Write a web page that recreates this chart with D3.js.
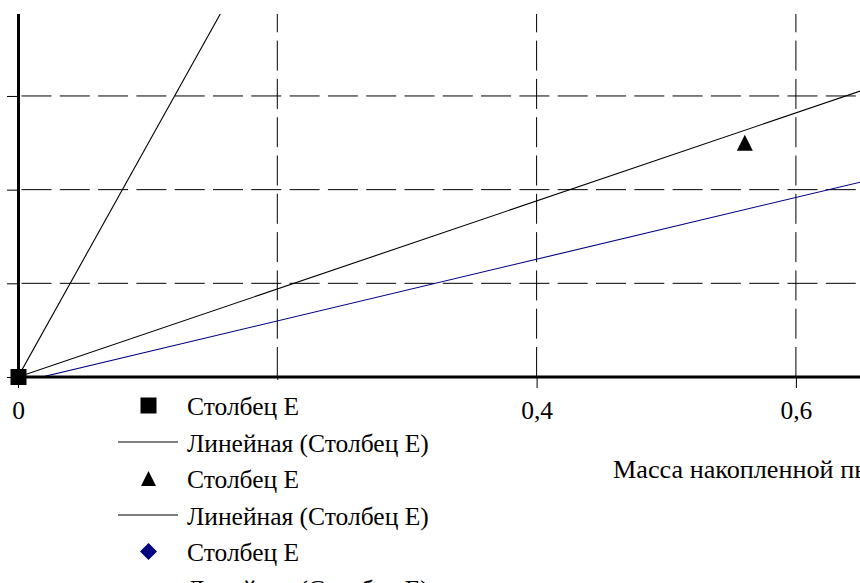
<!DOCTYPE html>
<html>
<head>
<meta charset="utf-8">
<script src="https://cdn.jsdelivr.net/npm/d3@7"></script>
<style>
  html, body { margin: 0; padding: 0; background: #fff; overflow: hidden; }
</style>
</head>
<body>
<svg id="chart" width="860" height="583"></svg>
<script>
// Observed points for each series
const squarePoints = [[0, 0]];
const trianglePoints = [[0.5606, 0.250]];
const diamondPoints = [];

// Linear trend lines (y = slope * x + intercept), one per series
const trendSlopes = [2.484, 0.4698, 0.3296];
const trendIntercepts = [0, 0, -0.0061];

// Axis ticks and labels (the 0,2 label sits beneath the legend)
const xTickValues = [0, 0.2, 0.4, 0.6];
const xTickLabels = ["0", "", "0,4", "0,6"];
const yGridValues = [0.1, 0.2, 0.3];
const xAxisTitle = "Масса накопленной пыли";

// Legend entries
const legendLabels = [
  "Столбец Е",
  "Линейная (Столбец Е)",
  "Столбец Е",
  "Линейная (Столбец Е)",
  "Столбец Е",
  "Линейная (Столбец Е)"
];
const legendKinds = ["square", "line", "triangle", "line", "diamond", "line"];

// Styling
const serif = "'Liberation Serif', 'Times New Roman', Tinos, serif";
const fontSize = 25.5;
const titleSize = 26.2;
const trendColors = ["#000", "#000", "#000080"];
const diamondColor = "#000080";

const svg = d3.select("#chart");

const plot = { left: 18, top: 14, bottom: 377 };
const x = d3.scaleLinear().domain([0, 0.7]).range([plot.left, plot.left + 0.7 * 1296.5]);
const y = d3.scaleLinear().domain([0, 0.3875]).range([plot.bottom, plot.top]);
const [xMin, xMax] = x.domain();
const [yMin, yMax] = y.domain();

svg.append("defs").append("clipPath").attr("id", "plotClip")
  .append("rect")
  .attr("x", x(xMin)).attr("y", y(yMax))
  .attr("width", x(xMax) - x(xMin)).attr("height", y(yMin) - y(yMax));

// Dashed gridlines
const grid = svg.append("g").attr("stroke", "#000").attr("stroke-width", 1)
  .attr("stroke-dasharray", "30,8.3").attr("fill", "none");
grid.selectAll("line.h").data(yGridValues).join("line")
  .attr("class", "h")
  .attr("x1", x(xMin) + 3.5).attr("x2", x(xMax))
  .attr("y1", d => y(d)).attr("y2", d => y(d));
grid.selectAll("line.v").data(xTickValues.filter(d => d > 0)).join("line")
  .attr("class", "v")
  .attr("x1", d => x(d)).attr("x2", d => x(d))
  .attr("y1", y(yMin)).attr("y2", y(yMax));

// Trend lines
const trendGroup = svg.append("g").attr("clip-path", "url(#plotClip)");
const trendData = trendSlopes.map((s, i) => ({ slope: s, intercept: trendIntercepts[i], color: trendColors[i] }));
const lineGen = d3.line().x(d => x(d[0])).y(d => y(d[1]));
trendGroup.selectAll("path").data(trendData.slice().reverse()).join("path")
  .attr("d", d => lineGen([[xMin, d.slope * xMin + d.intercept], [xMax, d.slope * xMax + d.intercept]]))
  .attr("fill", "none")
  .attr("stroke", d => d.color)
  .attr("stroke-width", 1.1);

// Axes
const xAxis = d3.axisBottom(x).tickValues(xTickValues).tickSize(11)
  .tickFormat((d, i) => xTickLabels[i]);
const gx = svg.append("g").attr("transform", `translate(0,${y(0)})`).call(xAxis)
  .attr("font-family", serif);
gx.select(".domain").attr("stroke", "#000").attr("stroke-width", 3)
  .attr("d", `M${x(xMin)},0H${x(xMax)}`);
gx.selectAll(".tick line").attr("stroke", "#000");
gx.selectAll(".tick text").filter((d, i) => xTickLabels[i] === "").remove();
gx.selectAll(".tick text").attr("y", 42).attr("dy", null)
  .attr("font-size", fontSize).attr("fill", "#000");

const yAxis = d3.axisLeft(y).tickValues([0].concat(yGridValues)).tickSize(11).tickFormat("");
const gy = svg.append("g").attr("transform", `translate(${x(0)},0)`).call(yAxis);
gy.select(".domain").attr("stroke", "#000").attr("stroke-width", 3)
  .attr("d", `M0.5,${y(yMin)}V${y(yMax)}`);
gy.selectAll(".tick line").attr("stroke", "#000");
gy.selectAll(".tick text").remove();

// Markers
const sq = 16;
svg.append("g").selectAll("rect").data(squarePoints).join("rect")
  .attr("x", d => x(d[0]) - sq / 2 + 0.5).attr("y", d => y(d[1]) - sq / 2)
  .attr("width", sq).attr("height", sq).attr("fill", "#000");

const triPath = s => `M0,${-s / 2}L${s / 2},${s / 2}L${-s / 2},${s / 2}Z`;
svg.append("g").selectAll("path").data(trianglePoints).join("path")
  .attr("transform", d => `translate(${x(d[0])},${y(d[1])})`)
  .attr("d", triPath(16)).attr("fill", "#000");

const diaPath = s => `M0,${-s / 2}L${s / 2},0L0,${s / 2}L${-s / 2},0Z`;
svg.append("g").selectAll("path").data(diamondPoints).join("path")
  .attr("transform", d => `translate(${x(d[0])},${y(d[1])})`)
  .attr("d", diaPath(17)).attr("fill", diamondColor);

// Axis title
svg.append("text")
  .attr("x", 613).attr("y", 478)
  .attr("font-family", serif)
  .attr("font-size", titleSize)
  .text(xAxisTitle);

// Legend
const legend = svg.append("g");
legend.append("rect").attr("x", 110).attr("y", 380).attr("width", 340).attr("height", 220).attr("fill", "#fff");
const rowStep = 36.5, firstBaseline = 415;
const rows = legend.selectAll("g.row").data(legendLabels).join("g")
  .attr("class", "row")
  .attr("transform", (d, i) => `translate(0,${firstBaseline + i * rowStep})`);
rows.append("text").attr("x", 187).attr("y", 0)
  .attr("font-family", serif).attr("font-size", fontSize).text(d => d);
rows.each(function (d, i) {
  const g = d3.select(this);
  const kind = legendKinds[i];
  const cy = -9.5, cx = 148.5;
  if (kind === "square") {
    g.append("rect").attr("x", cx - 8).attr("y", cy - 8).attr("width", 16).attr("height", 16).attr("fill", "#000");
  } else if (kind === "triangle") {
    g.append("path").attr("transform", `translate(${cx},${cy})`).attr("d", triPath(15)).attr("fill", "#000");
  } else if (kind === "diamond") {
    g.append("path").attr("transform", `translate(${cx},${cy})`).attr("d", diaPath(17)).attr("fill", diamondColor);
  } else {
    const seriesIdx = Math.floor(i / 2);
    g.append("line").attr("x1", 118).attr("x2", 178).attr("y1", cy).attr("y2", cy)
      .attr("stroke", trendColors[seriesIdx]).attr("stroke-width", 1.1);
  }
});
</script>
</body>
</html>
